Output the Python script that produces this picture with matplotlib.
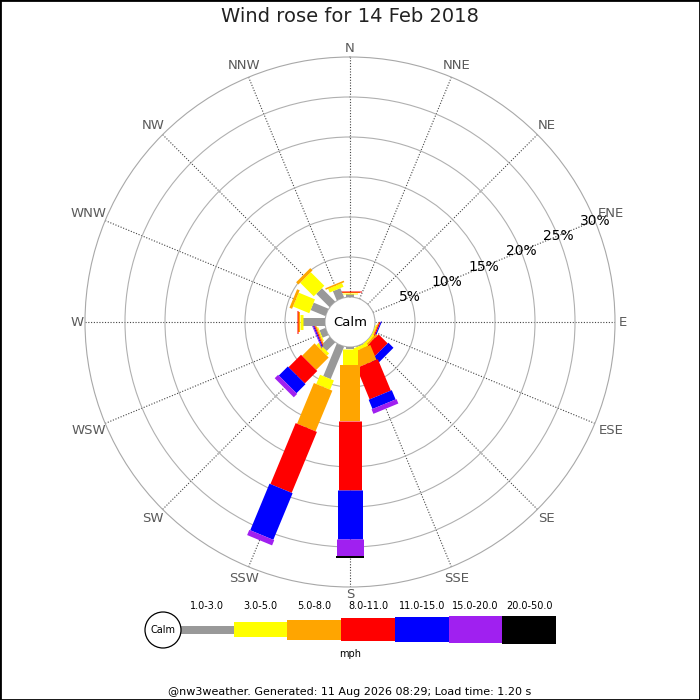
import numpy as np
import matplotlib
matplotlib.use('Agg')
import matplotlib.pyplot as plt
from matplotlib.patches import Rectangle, Circle

# ---------------- data ----------------
directions = ['N', 'NNE', 'NE', 'ENE', 'E', 'ESE', 'SE', 'SSE',
              'S', 'SSW', 'SW', 'WSW', 'W', 'WNW', 'NW', 'NNW']
speed_bins = ['1.0-3.0', '3.0-5.0', '5.0-8.0', '8.0-11.0',
              '11.0-15.0', '15.0-20.0', '20.0-50.0']
#               N    NNE  NE   ENE  E    ESE   SE    SSE   S    SSW   SW   WSW   W     WNW   NW    NNW
pct_1_3   = [0.35, 0,   0,   0,   0,   0.0,  0.0,  0.1,  0.3, 4.4,  1.5, 0.8,  2.8,  2.0,  2.35, 1.25]
pct_3_5   = [0.2,  0,   0,   0,   0,   0.15, 0.25, 0.4,  1.9, 1.25, 0.4, 0.15, 0.33, 2.2,  2.4,  0.5]
pct_5_8   = [0.05, 0,   0,   0,   0,   0.12, 0.25, 2.0,  7.1, 5.5,  2.2, 0.15, 0.2,  0.35, 0.4,  0.2]
pct_8_11  = [0.15, 0,   0,   0,   0,   0.15, 1.6,  4.25, 8.6, 8.25, 2.2, 0.12, 0.17, 0,    0,    0]
pct_11_15 = [0,    0,   0,   0,   0,   0.12, 0.9,  1.25, 6.1, 6.3,  1.6, 0.12, 0,    0,    0,    0]
pct_15_20 = [0,    0,   0,   0,   0,   0,    0,    0.6,  2.1, 0.7,  0.6, 0.1,  0,    0,    0,    0]
pct_20_50 = [0,    0,   0,   0,   0,   0,    0,    0,    0.25, 0,   0,   0,    0,    0,    0,    0]
ring_ticks = [5, 10, 15, 20, 25, 30]
title = 'Wind rose for 14 Feb 2018'
unit_label = 'mph'
calm_label = 'Calm'
footer = '@nw3weather. Generated: 11 Aug 2026 08:29; Load time: 1.20 s'

series = [pct_1_3, pct_3_5, pct_5_8, pct_8_11, pct_11_15, pct_15_20, pct_20_50]
colors = ['#999999', '#ffff00', '#ffa500', '#ff0000', '#0000ff', '#a020f0', '#000000']
widths_px = [8, 15, 20, 23, 25, 27, 28]

# ---------------- layout ----------------
W = H = 700
DPI = 100
PT = 72.0 / DPI
fig = plt.figure(figsize=(W / DPI, H / DPI), dpi=DPI)
fig.patch.set_facecolor('white')

cx, cy = 350, 322          # centre in pixels (from top)
R = 265                    # outer circle radius, px
calm_px = 25               # calm circle radius, px
rmax = ring_ticks[-1]
rorig = -calm_px / (R - calm_px) * rmax

ax = fig.add_axes([(cx - R) / W, 1 - (cy + R) / H, 2 * R / W, 2 * R / H],
                  projection='polar')
ax.set_theta_zero_location('N')
ax.set_theta_direction(-1)
ax.set_ylim(0, rmax)
ax.set_rorigin(rorig)

theta = np.deg2rad(np.arange(len(directions)) * 360.0 / len(directions))
ax.set_xticks(theta)
ax.set_xticklabels([])
ax.set_yticks(ring_ticks[:-1])
ax.set_yticklabels([])
ax.tick_params(length=0)
ax.xaxis.grid(True, color='#444444', lw=0.8, linestyle=(0, (1, 1.5)))
ax.yaxis.grid(True, color='#b0b0b0', lw=0.8, linestyle='-')
ax.spines['polar'].set_color('#a8a8a8')
ax.spines['polar'].set_linewidth(0.8)
ax.spines['inner'].set_color('#b0b0b0')
ax.spines['inner'].set_linewidth(0.8)
ax.set_axisbelow(True)

# stacked bars with constant pixel width
for i, th in enumerate(theta):
    base = 0.0
    for k, vals in enumerate(series):
        v = vals[i]
        if v <= 0:
            continue
        ax.plot([th, th], [base, base + v], color=colors[k],
                lw=widths_px[k] * PT, solid_capstyle='butt', zorder=3)
        base += v

# ring labels along ENE
ang_lab = np.deg2rad(67.5)
for r in ring_ticks:
    ax.text(ang_lab, r, f'{r}%', ha='center', va='center', fontsize=10,
            color='black', zorder=5)

# direction labels
for d, th in zip(directions, theta):
    wpx = len(d) * 9.3
    hpx = 10
    rp = 268 + 0.5 * (wpx * abs(np.sin(th)) + hpx * abs(np.cos(th)))
    x = cx + rp * np.sin(th)
    y = cy - rp * np.cos(th)
    fig.text(x / W, 1 - y / H, d, ha='center', va='center', fontsize=9.5,
             color='#5a5a5a')

# calm label in the middle
fig.text(cx / W, 1 - cy / H, calm_label, ha='center', va='center', fontsize=9.5)

# title
fig.text(0.5, 1 - 17 / H, title, ha='center', va='center', fontsize=14,
         color='#222222')

# ---------------- legend ----------------
lax = fig.add_axes([0, 0, 1, 1], zorder=-1)
lax.set_xlim(0, W)
lax.set_ylim(H, 0)
lax.axis('off')
lax.patch.set_alpha(0)

x0, seg = 180, 53.7
ly = 629.5
for k, lab in enumerate(speed_bins):
    xs = x0 + k * seg
    h = widths_px[k]
    lax.add_patch(Rectangle((xs, ly - h / 2), seg, h, facecolor=colors[k],
                            edgecolor='none'))
    lax.text(xs + seg / 2, 606, lab, ha='center', va='center', fontsize=7)
lax.add_patch(Circle((163, 630), 18, facecolor='white', edgecolor='black', lw=0.9))
lax.text(163, 630, calm_label, ha='center', va='center', fontsize=7)
lax.text(350, 654, unit_label, ha='center', va='center', fontsize=7)
lax.text(350, 692, footer, ha='center', va='center', fontsize=8)

# image border
fig.patches.append(Rectangle((0, 0), 1, 1, transform=fig.transFigure,
                             fill=False, edgecolor='black', lw=2.0))

fig.savefig('out.png', dpi=DPI)
